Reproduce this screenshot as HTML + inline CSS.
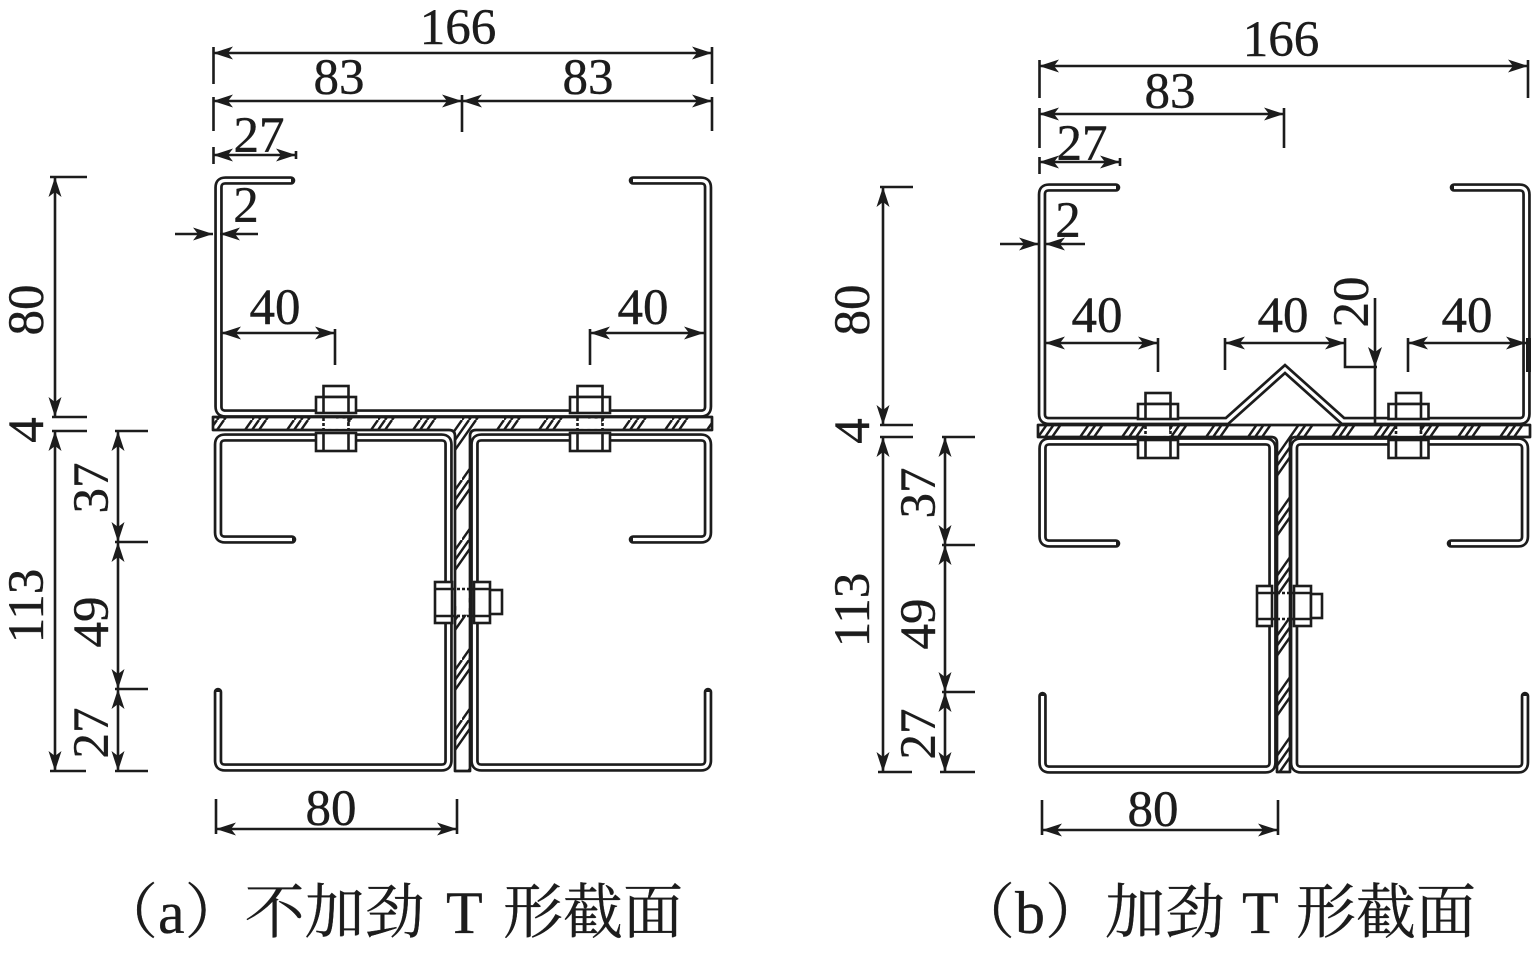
<!DOCTYPE html>
<html><head><meta charset="utf-8"><style>
html,body{margin:0;padding:0;background:#fff;}
svg{display:block;}
.k{fill:none;stroke:#1c1c1c;stroke-width:8.6;stroke-linecap:round;stroke-linejoin:round;}
.w{fill:none;stroke:#fff;stroke-width:3.2;stroke-linecap:butt;stroke-linejoin:round;}
.kt{fill:none;stroke:#1c1c1c;stroke-width:8.6;stroke-linecap:round;stroke-linejoin:miter;}
.wt{fill:none;stroke:#fff;stroke-width:3.2;stroke-linecap:butt;stroke-linejoin:miter;}
.pl{fill:url(#h);stroke:#1c1c1c;stroke-width:2.7;stroke-linejoin:round;}
.b{fill:#fff;stroke:#1c1c1c;stroke-width:2.6;}
.l{stroke:#1c1c1c;stroke-width:2.6;fill:none;}
.dl{stroke:#1c1c1c;stroke-width:2.6;stroke-dasharray:3 2;fill:none;}
.d{stroke:#1c1c1c;stroke-width:2.6;fill:none;}
.t{font-family:"Liberation Serif","DejaVu Serif",serif;font-size:51px;fill:#1c1c1c;stroke:#1c1c1c;stroke-width:0.4;text-anchor:middle;}
.c{font-family:"Liberation Serif","Noto Serif CJK SC","Noto Sans CJK SC",serif;font-size:60px;fill:#1c1c1c;stroke:#1c1c1c;stroke-width:0.3;}
</style></head><body>
<svg width="1535" height="953" viewBox="0 0 1535 953" xmlns="http://www.w3.org/2000/svg">
<defs>
<pattern id="h" patternUnits="userSpaceOnUse" width="42" height="60">
<path d="M0,60 L42,0 M7,60 L49,0 M14,60 L56,0 M-42,60 L0,0 M-35,60 L7,0 M-28,60 L14,0" stroke="#1c1c1c" stroke-width="2.4"/>
</pattern>
<marker id="a" viewBox="0 0 20 14" refX="20" refY="7" markerWidth="20" markerHeight="14" orient="auto-start-reverse" markerUnits="userSpaceOnUse">
<path d="M0,0.5 L20,7 L0,13.5 L5,7 Z" fill="#1c1c1c"/>
</marker>
<path id="pa1" d="M291 180.5 H225.5 Q218.5 180.5 218.5 187.5 V406.5 Q218.5 413.5 225.5 413.5 H701 Q708 413.5 708 406.5 V187.5 Q708 180.5 701 180.5 H633"/>
<path id="pa2" d="M292 539.5 H225 Q218 539.5 218 532.5 V444.5 Q218 437.5 225 437.5 H441.5 Q448.5 437.5 448.5 444.5 V760.5 Q448.5 767.5 441.5 767.5 H225 Q218 767.5 218 760.5 V692"/>
<path id="pa3" d="M633 539.5 H701 Q708 539.5 708 532.5 V444.5 Q708 437.5 701 437.5 H481.5 Q474.5 437.5 474.5 444.5 V760.5 Q474.5 767.5 481.5 767.5 H701 Q708 767.5 708 760.5 V692"/>
<path id="pb1" d="M1116 187.5 H1049 Q1042 187.5 1042 194.5 V414 Q1042 421 1049 421 H1227 L1285 369 L1343 421 H1519.5 Q1526.5 421 1526.5 414 V194.5 Q1526.5 187.5 1519.5 187.5 H1454"/>
<path id="pb2" d="M1116 543.5 H1049.5 Q1042.5 543.5 1042.5 536.5 V448.5 Q1042.5 441.5 1049.5 441.5 H1265.5 Q1272.5 441.5 1272.5 448.5 V762.5 Q1272.5 769.5 1265.5 769.5 H1049.5 Q1042.5 769.5 1042.5 762.5 V696"/>
<path id="pb3" d="M1451 543.5 H1518 Q1525 543.5 1525 536.5 V448.5 Q1525 441.5 1518 441.5 H1301 Q1294 441.5 1294 448.5 V762.5 Q1294 769.5 1301 769.5 H1518 Q1525 769.5 1525 762.5 V696"/>
</defs>

<!-- ===== (a) ===== -->
<path class="pl" d="M213 417 H712 V430 H476 Q470 430 470 436 V771 H455 V436 Q455 430 449 430 H213 Z"/>
<use href="#pa1" class="k"/><use href="#pa1" class="w"/>
<use href="#pa2" class="k"/><use href="#pa2" class="w"/>
<use href="#pa3" class="k"/><use href="#pa3" class="w"/>

<g>
<rect x="323.5" y="386" width="25" height="11" class="b"/>
<rect x="316" y="397" width="40" height="16" class="b"/>
<path class="l" d="M323.5 397 V413 M348.5 397 V413"/>
<rect x="324.8" y="418.6" width="22.4" height="10.2" fill="#fff"/>
<path class="dl" d="M323.5 418 V430 M348.5 418 V430"/>
<rect x="316" y="433" width="40" height="18" class="b"/>
<path class="l" d="M323.5 433 V451 M348.5 433 V451"/>
</g>
<g>
<rect x="577.5" y="386" width="25" height="11" class="b"/>
<rect x="570" y="397" width="40" height="16" class="b"/>
<path class="l" d="M577.5 397 V413 M602.5 397 V413"/>
<rect x="578.8" y="418.6" width="22.4" height="10.2" fill="#fff"/>
<path class="dl" d="M577.5 418 V430 M602.5 418 V430"/>
<rect x="570" y="433" width="40" height="18" class="b"/>
<path class="l" d="M577.5 433 V451 M602.5 433 V451"/>
</g>
<g>
<rect x="435" y="582" width="17" height="41" class="b"/>
<path class="l" d="M435 589 H452 M435 616 H452"/>
<rect x="456.4" y="590.3" width="12.2" height="24.4" fill="#fff"/>
<path class="dl" d="M452 589 H474 M452 616 H474"/>
<rect x="474" y="582" width="16" height="41" class="b"/>
<path class="l" d="M474 589 H490 M474 616 H490"/>
<rect x="490" y="590" width="12" height="24" class="b"/>
</g>

<line class="d" x1="213" y1="53" x2="712" y2="53" marker-start="url(#a)" marker-end="url(#a)"/>
<path class="d" d="M213.5 47 V84 M712 47 V84 M213.5 97 V131 M712 97 V131 M462 95 V132 M213.5 147 V164 M296 151 V159"/>
<text class="t" x="458" y="44">166</text>
<line class="d" x1="213" y1="101" x2="462" y2="101" marker-start="url(#a)" marker-end="url(#a)"/>
<line class="d" x1="462" y1="101" x2="712" y2="101" marker-start="url(#a)" marker-end="url(#a)"/>
<text class="t" x="339" y="94">83</text>
<text class="t" x="588" y="94">83</text>
<line class="d" x1="213" y1="155" x2="296" y2="155" marker-start="url(#a)" marker-end="url(#a)"/>
<text class="t" x="259" y="152">27</text>
<line class="d" x1="175" y1="234" x2="213" y2="234" marker-end="url(#a)"/>
<line class="d" x1="258" y1="234" x2="220" y2="234" marker-end="url(#a)"/>
<text class="t" x="246" y="222">2</text>
<line class="d" x1="221" y1="333" x2="335" y2="333" marker-start="url(#a)" marker-end="url(#a)"/>
<path class="d" d="M335 329 V365 M590 329 V365"/>
<text class="t" x="275" y="324">40</text>
<line class="d" x1="590" y1="333" x2="704" y2="333" marker-start="url(#a)" marker-end="url(#a)"/>
<text class="t" x="643" y="324">40</text>
<line class="d" x1="216" y1="829" x2="457" y2="829" marker-start="url(#a)" marker-end="url(#a)"/>
<path class="d" d="M216 799 V834 M457 799 V834"/>
<text class="t" x="331" y="825">80</text>

<line class="d" x1="55" y1="177" x2="55" y2="417" marker-start="url(#a)" marker-end="url(#a)"/>
<line class="d" x1="55" y1="431" x2="55" y2="771" marker-start="url(#a)" marker-end="url(#a)"/>
<path class="d" d="M50 177 H87 M52 417 H87 M52 431 H87 M50 771 H86 M115 431 H148 M115 542 H148 M115 689 H148 M115 771 H148"/>
<line class="d" x1="118" y1="431" x2="118" y2="542" marker-start="url(#a)" marker-end="url(#a)"/>
<line class="d" x1="118" y1="542" x2="118" y2="689" marker-start="url(#a)" marker-end="url(#a)"/>
<line class="d" x1="118" y1="689" x2="118" y2="771" marker-start="url(#a)" marker-end="url(#a)"/>
<text class="t" transform="translate(43,310) rotate(-90)">80</text>
<text class="t" transform="translate(43,430) rotate(-90)">4</text>
<text class="t" transform="translate(43,606) rotate(-90)">113</text>
<text class="t" transform="translate(108,488) rotate(-90)">37</text>
<text class="t" transform="translate(108,622) rotate(-90)">49</text>
<text class="t" transform="translate(108,733) rotate(-90)">27</text>

<text class="c" x="98" y="933">（a）不加劲</text>
<text class="c" x="446" y="933">T</text>
<text class="c" x="503" y="933">形截面</text>

<!-- ===== (b) ===== -->
<path class="pl" d="M1038 425 H1530 V437 H1296 Q1290 437 1290 443 V772 H1277 V443 Q1277 437 1271 437 H1038 Z"/>
<use href="#pb1" class="kt"/><use href="#pb1" class="wt"/>
<use href="#pb2" class="k"/><use href="#pb2" class="w"/>
<use href="#pb3" class="k"/><use href="#pb3" class="w"/>

<g>
<rect x="1145.5" y="393" width="25" height="11" class="b"/>
<rect x="1138" y="404" width="40" height="15" class="b"/>
<path class="l" d="M1145.5 404 V419 M1170.5 404 V419"/>
<rect x="1146.8" y="426.6" width="22.4" height="9.2" fill="#fff"/>
<path class="dl" d="M1145.5 426 V437 M1170.5 426 V437"/>
<rect x="1138" y="440" width="40" height="18" class="b"/>
<path class="l" d="M1145.5 440 V458 M1170.5 440 V458"/>
</g>
<g>
<rect x="1396" y="393" width="25" height="11" class="b"/>
<rect x="1388.5" y="404" width="40" height="15" class="b"/>
<path class="l" d="M1396 404 V419 M1421 404 V419"/>
<rect x="1397.3" y="426.6" width="22.4" height="9.2" fill="#fff"/>
<path class="dl" d="M1396 426 V437 M1421 426 V437"/>
<rect x="1388.5" y="440" width="40" height="18" class="b"/>
<path class="l" d="M1396 440 V458 M1421 440 V458"/>
</g>
<g>
<rect x="1257" y="586" width="15" height="40" class="b"/>
<path class="l" d="M1257 593 H1272 M1257 619 H1272"/>
<rect x="1278.4" y="594.3" width="10.2" height="23.4" fill="#fff"/>
<path class="dl" d="M1272 593 H1294 M1272 619 H1294"/>
<rect x="1294" y="586" width="17" height="40" class="b"/>
<path class="l" d="M1294 593 H1311 M1294 619 H1311"/>
<rect x="1311" y="594" width="11" height="24" class="b"/>
</g>

<line class="d" x1="1039" y1="66" x2="1528" y2="66" marker-start="url(#a)" marker-end="url(#a)"/>
<path class="d" d="M1039.5 60 V98 M1528 60 V98 M1039.5 108 V148 M1284 108 V148 M1039.5 157 V174 M1120 158 V166"/>
<text class="t" x="1281" y="56">166</text>
<line class="d" x1="1039" y1="114" x2="1284" y2="114" marker-start="url(#a)" marker-end="url(#a)"/>
<text class="t" x="1170" y="108">83</text>
<line class="d" x1="1039" y1="162" x2="1120" y2="162" marker-start="url(#a)" marker-end="url(#a)"/>
<text class="t" x="1082" y="160">27</text>
<line class="d" x1="1000" y1="244" x2="1039" y2="244" marker-end="url(#a)"/>
<line class="d" x1="1085" y1="244" x2="1045" y2="244" marker-end="url(#a)"/>
<text class="t" x="1068" y="237">2</text>
<line class="d" x1="1045" y1="343" x2="1158" y2="343" marker-start="url(#a)" marker-end="url(#a)"/>
<line class="d" x1="1225" y1="343" x2="1345" y2="343" marker-start="url(#a)" marker-end="url(#a)"/>
<line class="d" x1="1408" y1="343" x2="1526" y2="343" marker-start="url(#a)" marker-end="url(#a)"/>
<path class="d" d="M1158 338 V372 M1225 338 V370 M1345 338 V367 H1377 M1408 338 V372 M1375 298 V423"/>
<rect x="1526" y="338" width="5" height="34" fill="#1c1c1c"/>
<polygon points="1375,367 1368,347 1375,352 1382,347" fill="#1c1c1c"/>
<text class="t" x="1097" y="332">40</text>
<text class="t" x="1283" y="332">40</text>
<text class="t" x="1467" y="332">40</text>
<text class="t" transform="translate(1368,302) rotate(-90)">20</text>
<line class="d" x1="1042" y1="830" x2="1278" y2="830" marker-start="url(#a)" marker-end="url(#a)"/>
<path class="d" d="M1042 800 V835 M1278 800 V835"/>
<text class="t" x="1153" y="826">80</text>

<line class="d" x1="883" y1="187" x2="883" y2="425" marker-start="url(#a)" marker-end="url(#a)"/>
<line class="d" x1="883" y1="437" x2="883" y2="772" marker-start="url(#a)" marker-end="url(#a)"/>
<path class="d" d="M880 187 H913 M880 425 H913 M880 437 H913 M878 772 H912 M942 437 H975 M942 545 H975 M942 692 H975 M940 772 H975"/>
<line class="d" x1="945" y1="437" x2="945" y2="545" marker-start="url(#a)" marker-end="url(#a)"/>
<line class="d" x1="945" y1="545" x2="945" y2="692" marker-start="url(#a)" marker-end="url(#a)"/>
<line class="d" x1="945" y1="692" x2="945" y2="772" marker-start="url(#a)" marker-end="url(#a)"/>
<text class="t" transform="translate(869,310) rotate(-90)">80</text>
<text class="t" transform="translate(869,431) rotate(-90)">4</text>
<text class="t" transform="translate(869,610) rotate(-90)">113</text>
<text class="t" transform="translate(935,493) rotate(-90)">37</text>
<text class="t" transform="translate(935,624) rotate(-90)">49</text>
<text class="t" transform="translate(935,734) rotate(-90)">27</text>

<text class="c" x="955" y="933">（b）加劲</text>
<text class="c" x="1242" y="933">T</text>
<text class="c" x="1296" y="933">形截面</text>
</svg>
</body></html>
